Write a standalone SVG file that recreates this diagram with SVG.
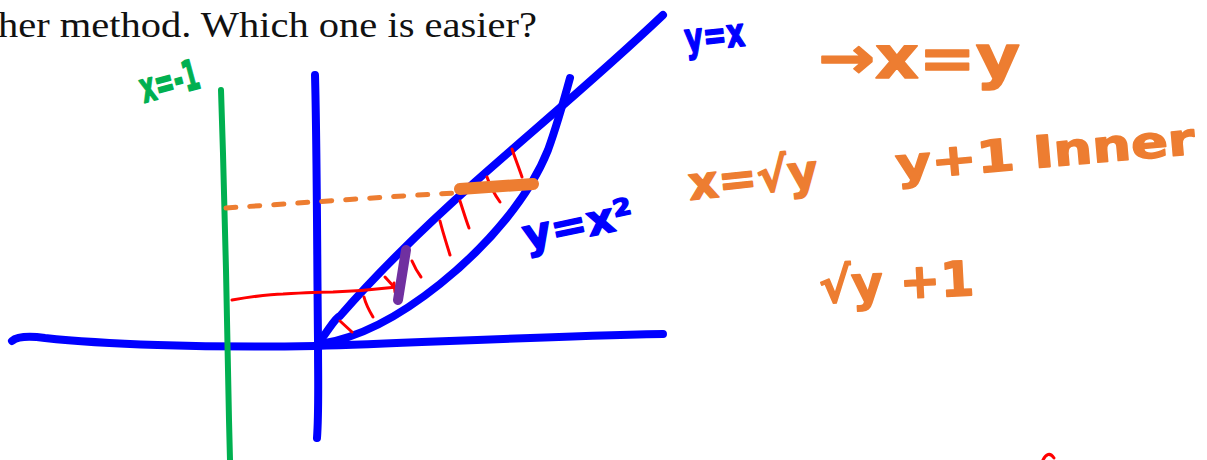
<svg xmlns="http://www.w3.org/2000/svg" width="1207" height="460" viewBox="0 0 1207 460">
<style>
.ink{fill:none;stroke-linecap:round;stroke-linejoin:round}
.blue{stroke:#0000ff;stroke-width:8}
.green{stroke:#00b050;stroke-width:6}
.red{stroke:#ff0000;stroke-width:3}
.orange{stroke:#ed7d31}
.hand{font-family:"DejaVu Sans",sans-serif;font-weight:bold;stroke-width:1.5;stroke-linejoin:round}
.tb{fill:#0000ff;stroke:#0000ff}.to{fill:#ed7d31;stroke:#ed7d31}.tg{fill:#00b050;stroke:#00b050}
</style>
<rect width="1207" height="460" fill="#fff"/>
<text x="-2" y="37" font-family="'Liberation Serif',serif" font-size="36" fill="#111" textLength="539" lengthAdjust="spacingAndGlyphs">her method. Which one is easier?</text>
<g id="axes">
<path class="ink blue" d="M12,341 C18,336 30,336 45,338 C100,344 200,348 315,346 C420,343 520,337 663,334"/>
<path class="ink blue" d="M315,75 C317,150 317,250 318,340 C318,380 319,410 317,438"/>
</g>
<g id="line-x-neg1">
<path class="ink green" d="M221,90 C223,150 225,220 226,270 C227,330 228,380 229,420 L230,460"/>
</g>
<g id="curves">
<path class="ink blue" d="M320,341 C330,328 335,318 340,316 C380,270 430,222 475,182 C530,133 600,75 663,15"/>
<path class="ink blue" d="M320,344 C360,338 400,316 440,284 C490,244 530,195 548,150 C556,128 564,100 570,78"/>
</g>
<g id="hatching">
<path class="ink red" d="M232,300 C250,297 268,294 283,294 C300,293 318,292 333,292 C360,291 380,289 397,287"/>
<path class="ink red" d="M394,283 L395,292"/>
<path class="ink red" d="M340,321 L352,332"/>
<path class="ink red" d="M364,297 C366,305 370,312 373,317"/>
<path class="ink red" d="M385,277 L395,288"/>
<path class="ink red" d="M412,261 C415,268 418,273 421,277"/>
<path class="ink red" d="M440,221 C443,233 447,245 450,255"/>
<path class="ink red" d="M460,201 C463,210 466,220 469,228"/>
<path class="ink red" d="M487,177 C490,186 495,195 500,202"/>
<path class="ink red" d="M512,149 C515,158 519,168 522,177"/>
<path class="ink red" stroke-width="4" d="M1043,460 C1046,454 1050,452 1054,458"/>
</g>
<g id="strips">
<path class="ink orange" stroke-width="5" stroke-dasharray="10,14" d="M226,208 C300,203 380,197 455,193"/>
<path class="ink orange" stroke-width="12" d="M460,189 L533,184"/>
<path class="ink" stroke="#7030a0" stroke-width="10" d="M406,250 L398,300"/>
</g>
<g id="labels">
<text class="hand tg" x="144" y="103" font-size="42" textLength="60" lengthAdjust="spacingAndGlyphs" transform="rotate(-15 144 103)">x=-1</text>
<text class="hand tb" x="686" y="52" font-size="40" textLength="60" lengthAdjust="spacingAndGlyphs" transform="rotate(-6 686 52)">y=x</text>
<text class="hand tb" x="526" y="250" font-size="42" textLength="112" lengthAdjust="spacingAndGlyphs" transform="rotate(-12 526 250)">y=x²</text>
<text class="hand to" x="818" y="78" font-size="58" textLength="202" lengthAdjust="spacingAndGlyphs">→x=y</text>
<text class="hand to" x="690" y="200" font-size="46" textLength="130" lengthAdjust="spacingAndGlyphs" transform="rotate(-6 690 200)">x=√y</text>
<text class="hand to" x="897" y="180" font-size="44" textLength="300" lengthAdjust="spacingAndGlyphs" transform="rotate(-5 897 180)">y+1 Inner</text>
<text class="hand to" x="820" y="303" font-size="48" textLength="155" lengthAdjust="spacingAndGlyphs" transform="rotate(-3 820 303)">√y +1</text>
</g>
</svg>
